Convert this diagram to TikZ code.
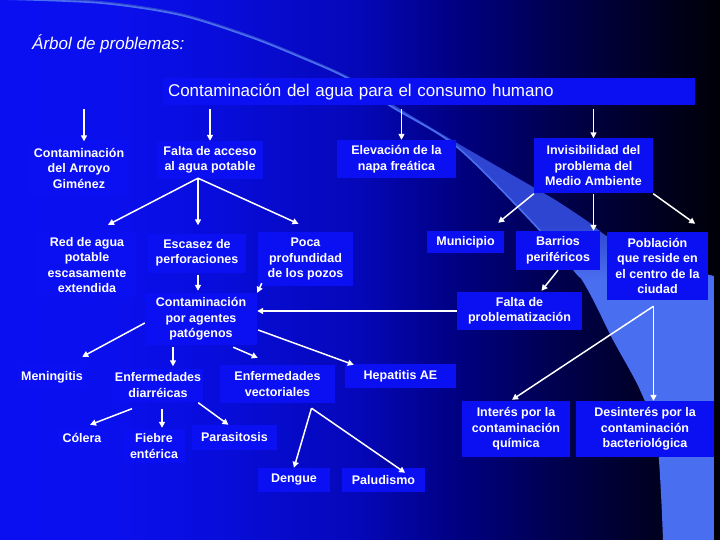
\documentclass[tikz,border=0pt]{standalone}
\usepackage{fontspec}
\setmainfont{Liberation Sans}
\usepackage{tikz}
\usetikzlibrary{arrows.meta, calc, positioning}
\usepackage{xcolor}
\definecolor{boxblue}{RGB}{10,16,242}
\definecolor{swoosh}{RGB}{74,110,240}
\pgfdeclarehorizontalshading{bgblue}{100bp}{%
  rgb(0bp)=(0.04,0.06,0.95); rgb(25bp)=(0.04,0.06,0.95);
  rgb(33bp)=(0.04,0.06,0.93); rgb(40bp)=(0.03,0.05,0.86);
  rgb(50bp)=(0.02,0.03,0.72); rgb(57bp)=(0,0,0.50);
  rgb(64bp)=(0,0,0.30); rgb(70bp)=(0,0,0.14);
  rgb(75bp)=(0,0,0.03); rgb(100bp)=(0,0,0.03)}
\pgfdeclareverticalshading{swsh}{100bp}{%
  rgb(0bp)=(0.29,0.43,0.94); rgb(49bp)=(0.29,0.43,0.94);
  rgb(54bp)=(0.18,0.27,0.82); rgb(100bp)=(0.18,0.27,0.82)}
\tikzset{
  cbox/.style    ={fill=boxblue, text=white, align=center, inner sep=0pt,
                   font=\fontsize{12.5}{15.5}\selectfont\bfseries},
  rootbox/.style ={fill=boxblue, text=white, align=left, inner xsep=5pt, inner ysep=0pt,
                   font=\fontsize{17}{20}\selectfont},
  ttl/.style     ={text=white, inner sep=0pt, font=\fontsize{17}{20}\selectfont\itshape},
  arr/.style     ={-{Triangle[length=6pt,width=6pt]}, line width=1.5pt, white}, % cause -> effect
}

\begin{document}
\begin{tikzpicture}[x=1pt, y=-1pt]
  \useasboundingbox (0,0) rectangle (720,540);
  \shade[shading=bgblue] (0,0) rectangle (720,540);
  % light swoosh behind the tree
  \shade[shading=swsh] plot[smooth] coordinates {(0,-1) (100,3) (180,15) (250,37) (300,57) (347,78)
      (392,107) (457,147) (533,223) (580,277) (613,340) (640,390) (657,440) (663,540)}
    -- (714,540) -- (714,276)
    -- plot[smooth] coordinates {(714,276) (690,270) (660,262) (630,250) (605,235) (590,223)
      (557,201) (533,187) (495,165) (457,143) (420,121) (392,104) (347,76) (300,55) (250,35)
      (180,13) (100,1) (0,-3)}
    -- cycle;
  \draw[swoosh, line width=1.6pt] plot[smooth] coordinates {(0,-1) (100,3) (180,15) (250,37)
      (300,57) (347,78) (392,107) (457,147) (533,223) (580,277)};

  \node[ttl, anchor=west] (titulo) at (32,44) {Árbol de problemas:};
  \node[rootbox, minimum width=532pt, minimum height=27pt, text width=522pt] (root) at (429,92)
    {Contaminación del agua para el consumo humano};

  \node[cbox, minimum width=98pt,  minimum height=53pt] (arroyo)  at (79,168)    {Contaminación\\del Arroyo\\Giménez};
  \node[cbox, minimum width=106pt, minimum height=38pt] (falta)   at (210,160)   {Falta de acceso\\al agua potable};
  \node[cbox, minimum width=119pt, minimum height=38pt] (elev)    at (396.5,159) {Elevación de la\\napa freática};
  \node[cbox, minimum width=119pt, minimum height=55pt] (invis)   at (593.5,166) {Invisibilidad del\\problema del\\Medio Ambiente};

  \node[cbox, minimum width=98pt,  minimum height=64pt] (red)     at (87,265)    {Red de agua\\potable\\escasamente\\extendida};
  \node[cbox, minimum width=98pt,  minimum height=39pt] (escasez) at (197,253)   {Escasez de\\perforaciones};
  \node[cbox, minimum width=95pt,  minimum height=54pt] (poca)    at (305.5,259) {Poca\\profundidad\\de los pozos};
  \node[cbox, minimum width=77pt,  minimum height=22pt] (muni)    at (465.5,242) {Municipio};
  \node[cbox, minimum width=84pt,  minimum height=39pt] (barrios) at (558,250.5) {Barrios\\periféricos};
  \node[cbox, minimum width=101pt, minimum height=68pt] (pobl)    at (657.5,266) {Población\\que reside en\\el centro de la\\ciudad};

  \node[cbox, minimum width=112pt, minimum height=52pt] (contag)  at (201,319)   {Contaminación\\por agentes\\patógenos};
  \node[cbox, minimum width=125pt, minimum height=38pt] (problem) at (519.5,311) {Falta de\\problematización};

  \node[cbox, minimum width=68pt,  minimum height=22pt] (menin)   at (52,377)    {Meningitis};
  \node[cbox, minimum width=90pt,  minimum height=33pt] (diarr)   at (158,385)   {Enfermedades\\diarréicas};
  \node[cbox, minimum width=115pt, minimum height=38pt] (vector)  at (277.5,384) {Enfermedades\\vectoriales};
  \node[cbox, minimum width=111pt, minimum height=24pt] (hepat)   at (400.5,376) {Hepatitis AE};

  \node[cbox, minimum width=48pt,  minimum height=20pt] (colera)  at (82,438)    {Cólera};
  \node[cbox, minimum width=62pt,  minimum height=34pt] (fiebre)  at (154,446)   {Fiebre\\entérica};
  \node[cbox, minimum width=85pt,  minimum height=25pt] (parasit) at (234.5,437.5) {Parasitosis};
  \node[cbox, minimum width=72pt,  minimum height=24pt] (dengue)  at (294,480)   {Dengue};
  \node[cbox, minimum width=83pt,  minimum height=24pt] (palud)   at (383.5,480) {Paludismo};
  \node[cbox, minimum width=108pt, minimum height=56pt] (interes) at (516,429)   {Interés por la\\contaminación\\química};
  \node[cbox, minimum width=138pt, minimum height=56pt] (desint)  at (645,429)   {Desinterés por la\\contaminación\\bacteriológica};

  % first level
  \foreach \n/\dx in {arroyo/5, falta/0, elev/5, invis/0}
    \draw[arr] ($(root.south -| \n.north)+(\dx,3)$) -- ($(\n.north)+(\dx,0)$);

  % Falta de acceso
  \coordinate (fa-s) at ($(falta.south)+(-12,-1)$);
  \draw[arr] (fa-s) -- ($(red.north)+(21,-8)$);
  \draw[arr] (fa-s) -- ($(escasez.north)+(1,-8)$);
  \draw[arr] (fa-s) -- ($(poca.north)+(-7,-8)$);
  \draw[arr, shorten <=2pt, shorten >=2pt] (escasez.south -| fa-s) -- (contag.north -| fa-s);
  \draw[arr] ($(poca.south west)+(4,-3)$) -- (contag.north east);

  % Invisibilidad
  \draw[arr] (invis.south west) -- ($(muni.north east)+(-6,-8)$);
  \draw[arr] (invis.south) -- (invis.south |- barrios.north);
  \draw[arr] (invis.south east) -- ($(pobl.north east)+(-13,-8)$);
  \draw[arr] (barrios.south) -- ($(problem.north)+(22,-1)$);
  \draw[arr] (problem.west) -- (problem.west -| contag.east);
  \coordinate (po-s) at ($(pobl.south)+(-4,6)$);
  \draw[arr] (po-s) -- ($(interes.north)+(-4,-1)$);
  \draw[arr] (po-s) -- (po-s |- desint.north);

  % agentes patogenos
  \draw[arr] ($(contag.west)+(0,4)$) -- ($(menin.north east)+(-4,-9)$);
  \draw[arr, shorten <=2pt, shorten >=2pt] ($(contag.south -| diarr.north)+(15,0)$) -- ($(diarr.north)+(15,0)$);
  \draw[arr] ($(contag.south east)+(-24,2)$) -- ($(vector.north west)+(38,-7)$);
  \draw[arr] ($(contag.east)+(1,11)$) -- ($(hepat.north west)+(9,1)$);

  \draw[arr] ($(diarr.south)+(-26,7)$) -- ($(colera.north)+(8,-3)$);
  \draw[arr] ($(diarr.south)+(4,7)$) -- ($(fiebre.north)+(8,-1)$);
  \draw[arr] ($(diarr.south east)+(-5,1)$) -- ($(parasit.north)+(-6,0)$);

  \coordinate (ve-s) at ($(vector.south)+(34,5)$);
  \draw[arr] (ve-s) -- (dengue.north);
  \draw[arr] (ve-s) -- ($(palud.north east)+(-20,5)$);
\end{tikzpicture}
\end{document}
